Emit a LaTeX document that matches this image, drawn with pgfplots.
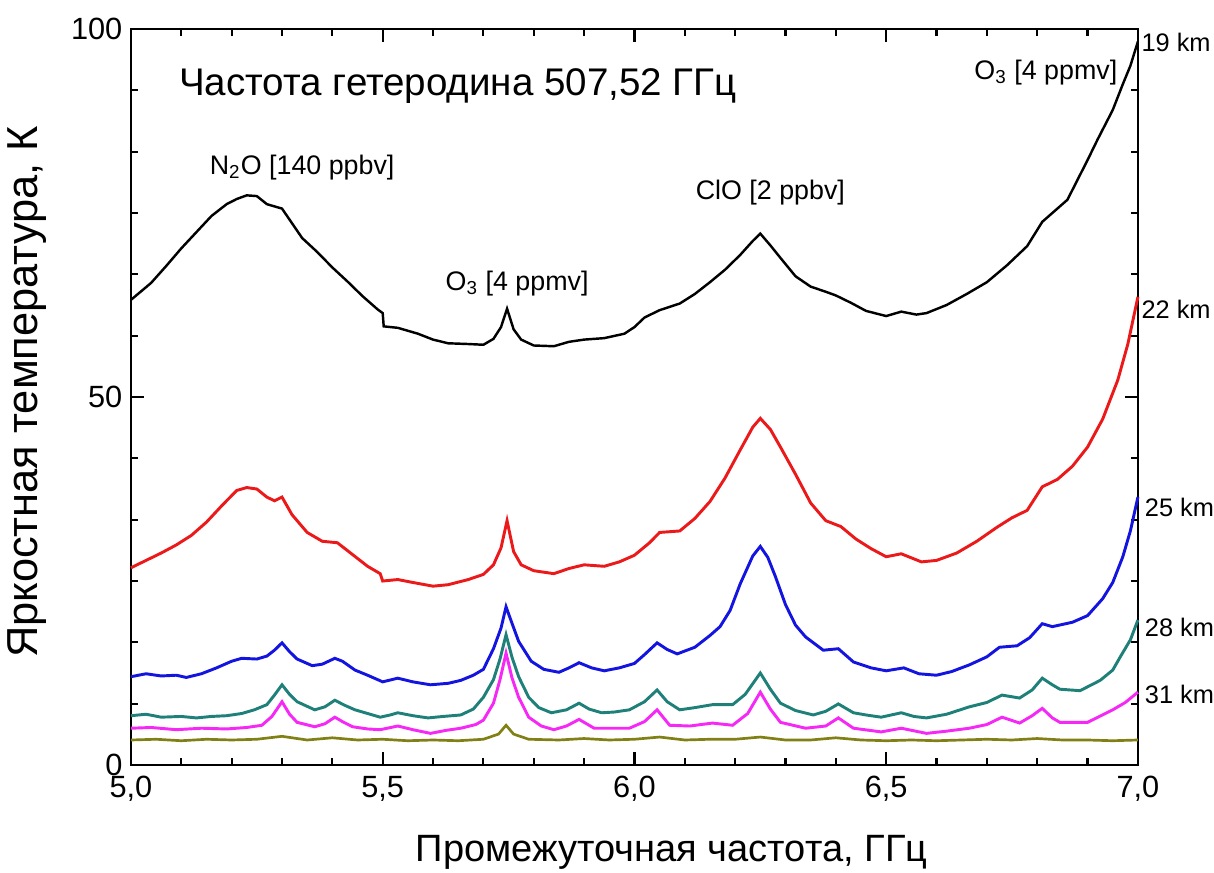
\documentclass[border=0pt]{standalone}
\usepackage{fontspec}
\setmainfont{Liberation Sans}
\usepackage{pgfplots}
\pgfplotsset{compat=1.18}
\definecolor{c19}{RGB}{0,0,0}
\definecolor{c22}{RGB}{235,25,25}
\definecolor{c25}{RGB}{20,20,225}
\definecolor{c28}{RGB}{30,128,120}
\definecolor{c31}{RGB}{245,40,245}
\definecolor{c34}{RGB}{128,128,20}
\tikzset{
  lab/.style={font=\fontsize{11}{13}\selectfont, inner sep=0pt},
  km/.style={anchor=base west, font=\fontsize{10.4}{12}\selectfont, inner sep=0pt, xshift=1.3pt},
}

\begin{document}
\begin{tikzpicture}
\begin{axis}[
  scale only axis,
  width=412.9pt, height=301.8pt,
  xmin=5, xmax=7, ymin=0, ymax=100,
  xtick={5,5.5,6,6.5,7}, ytick={0,50,100},
  minor x tick num=4, minor y tick num=5,
  tick align=inside,
  major tick length=5.3pt, minor tick length=3pt,
  every tick/.style={black, line width=0.9pt},
  axis line style={line width=1pt},
  /pgf/number format/assume math mode=true,
  xticklabel style={font=\fontsize{12.6}{14}\selectfont, yshift=-1pt,
    /pgf/number format/.cd, fixed, fixed zerofill, precision=1, use comma},
  yticklabel style={font=\fontsize{12.6}{14}\selectfont},
  xlabel={Промежуточная частота, ГГц},
  ylabel={Яркостная температура, К},
  xlabel style={font=\fontsize{15.6}{18}\selectfont,
    at={(axis description cs:0.537,-0.118)}, anchor=center},
  ylabel style={font=\fontsize{17.8}{20}\selectfont,
    at={(axis description cs:-0.103,0.507)}, anchor=center, rotate=0},
  clip=false,
]
% 19 km
\addplot[c19, line width=1pt] coordinates {
(5.00,63.2)(5.04,65.5)(5.07,67.8)(5.10,70.2)(5.13,72.4)(5.16,74.6)(5.19,76.2)(5.21,76.9)(5.23,77.4)(5.25,77.3)(5.27,76.2)(5.29,75.8)(5.30,75.6)(5.32,73.6)(5.34,71.6)(5.37,69.7)(5.40,67.6)(5.43,65.7)(5.46,63.7)(5.49,61.9)(5.50,61.4)(5.502,59.6)(5.53,59.4)(5.57,58.6)(5.60,57.8)(5.63,57.3)(5.67,57.2)(5.70,57.1)(5.72,57.9)(5.735,59.5)(5.747,62.0)(5.76,59.2)(5.775,57.8)(5.80,57.0)(5.84,56.9)(5.87,57.5)(5.90,57.8)(5.94,58.0)(5.98,58.6)(6.00,59.5)(6.02,60.8)(6.05,61.8)(6.09,62.7)(6.12,64.0)(6.15,65.6)(6.18,67.3)(6.21,69.3)(6.235,71.2)(6.25,72.2)(6.27,70.6)(6.29,68.9)(6.32,66.4)(6.35,65.0)(6.38,64.3)(6.40,63.8)(6.43,62.8)(6.46,61.7)(6.50,61.0)(6.53,61.6)(6.56,61.2)(6.58,61.4)(6.62,62.5)(6.66,64.0)(6.70,65.6)(6.74,67.9)(6.78,70.5)(6.81,73.8)(6.83,75.0)(6.86,76.8)(6.88,79.5)(6.90,82.2)(6.92,85.0)(6.95,89.0)(6.97,92.5)(6.985,95.0)(7.00,98.3)};
% 22 km
\addplot[c22, line width=1.2pt] coordinates {
(5.00,26.8)(5.03,27.8)(5.06,28.8)(5.09,29.9)(5.12,31.2)(5.15,33.0)(5.18,35.2)(5.21,37.3)(5.23,37.7)(5.25,37.5)(5.27,36.4)(5.285,35.9)(5.30,36.4)(5.32,34.0)(5.35,31.6)(5.38,30.4)(5.41,30.2)(5.44,28.6)(5.47,27.0)(5.495,26.0)(5.50,25.0)(5.53,25.2)(5.56,24.8)(5.60,24.3)(5.63,24.5)(5.67,25.2)(5.70,25.9)(5.72,27.2)(5.735,29.5)(5.747,33.2)(5.76,29.0)(5.775,27.2)(5.80,26.4)(5.84,26.0)(5.87,26.7)(5.90,27.2)(5.94,27.0)(5.97,27.6)(6.00,28.5)(6.03,30.2)(6.05,31.6)(6.09,31.8)(6.12,33.5)(6.15,35.8)(6.18,39.0)(6.21,42.8)(6.235,45.9)(6.25,47.1)(6.27,45.6)(6.29,43.2)(6.32,39.5)(6.35,35.6)(6.38,33.2)(6.41,32.4)(6.44,30.7)(6.47,29.4)(6.50,28.3)(6.53,28.7)(6.57,27.6)(6.60,27.8)(6.64,28.8)(6.68,30.4)(6.72,32.3)(6.75,33.6)(6.78,34.6)(6.81,37.8)(6.84,38.8)(6.87,40.6)(6.90,43.2)(6.93,47.0)(6.96,52.3)(6.98,57.2)(7.00,63.6)};
% 25 km
\addplot[c25, line width=1.2pt] coordinates {
(5.00,12.0)(5.03,12.4)(5.06,12.1)(5.09,12.2)(5.11,11.9)(5.14,12.4)(5.17,13.2)(5.20,14.1)(5.22,14.5)(5.25,14.4)(5.27,14.8)(5.285,15.6)(5.30,16.6)(5.315,15.4)(5.33,14.4)(5.36,13.5)(5.38,13.7)(5.405,14.5)(5.42,14.1)(5.445,12.9)(5.47,12.2)(5.50,11.3)(5.53,11.8)(5.56,11.3)(5.595,10.9)(5.63,11.1)(5.655,11.5)(5.68,12.2)(5.70,13.0)(5.72,15.8)(5.735,18.6)(5.745,21.5)(5.755,19.6)(5.77,16.8)(5.795,14.1)(5.82,13.0)(5.85,12.6)(5.87,13.2)(5.89,13.9)(5.915,13.2)(5.94,12.8)(5.97,13.2)(6.00,13.8)(6.02,15.0)(6.045,16.6)(6.065,15.7)(6.085,15.1)(6.12,16.0)(6.15,17.6)(6.17,18.8)(6.19,21.0)(6.21,24.6)(6.235,28.4)(6.25,29.7)(6.265,28.2)(6.28,25.6)(6.30,21.8)(6.32,19.0)(6.34,17.4)(6.375,15.6)(6.405,15.8)(6.435,14.0)(6.47,13.2)(6.50,12.8)(6.535,13.2)(6.565,12.4)(6.60,12.2)(6.63,12.7)(6.665,13.6)(6.70,14.7)(6.725,16.0)(6.76,16.2)(6.785,17.3)(6.81,19.2)(6.83,18.8)(6.87,19.4)(6.90,20.3)(6.93,22.6)(6.95,24.8)(6.97,28.3)(6.985,31.8)(7.00,36.4)};
% 28 km
\addplot[c28, line width=1.2pt] coordinates {
(5.00,6.7)(5.03,6.9)(5.06,6.5)(5.10,6.6)(5.13,6.4)(5.16,6.6)(5.19,6.7)(5.22,7.0)(5.245,7.5)(5.27,8.2)(5.285,9.5)(5.30,10.9)(5.315,9.6)(5.33,8.6)(5.365,7.5)(5.385,7.9)(5.405,8.8)(5.425,8.1)(5.445,7.5)(5.47,7.0)(5.495,6.5)(5.515,6.8)(5.53,7.1)(5.56,6.7)(5.59,6.4)(5.62,6.6)(5.655,6.8)(5.68,7.6)(5.70,9.2)(5.72,11.6)(5.733,14.4)(5.745,17.7)(5.757,14.6)(5.77,12.0)(5.79,9.2)(5.81,7.8)(5.835,7.1)(5.865,7.5)(5.89,8.4)(5.91,7.6)(5.935,7.1)(5.96,7.2)(5.99,7.5)(6.02,8.6)(6.045,10.2)(6.065,8.6)(6.09,7.5)(6.12,7.8)(6.155,8.2)(6.195,8.2)(6.22,9.6)(6.25,12.5)(6.27,10.3)(6.29,8.4)(6.32,7.4)(6.355,6.8)(6.38,7.3)(6.405,8.3)(6.435,7.1)(6.46,6.8)(6.49,6.5)(6.53,7.1)(6.555,6.6)(6.58,6.4)(6.62,6.9)(6.665,7.9)(6.70,8.5)(6.73,9.5)(6.765,9.1)(6.79,10.2)(6.81,11.8)(6.83,10.9)(6.845,10.3)(6.885,10.1)(6.925,11.5)(6.95,12.9)(6.965,14.7)(6.985,17.0)(7.00,19.7)};
% 31 km
\addplot[c31, line width=1.2pt] coordinates {
(5.00,5.0)(5.04,5.1)(5.09,4.8)(5.14,5.0)(5.19,4.9)(5.23,5.1)(5.26,5.4)(5.28,6.6)(5.30,8.6)(5.315,6.9)(5.33,5.8)(5.365,5.2)(5.385,5.6)(5.405,6.5)(5.42,5.9)(5.44,5.2)(5.47,4.9)(5.495,4.8)(5.53,5.3)(5.56,4.8)(5.595,4.3)(5.625,4.7)(5.655,5.0)(5.685,5.5)(5.70,6.1)(5.72,8.4)(5.733,11.6)(5.745,15.2)(5.757,11.8)(5.77,9.2)(5.79,6.5)(5.815,5.3)(5.84,4.8)(5.865,5.3)(5.89,6.2)(5.92,5.0)(5.96,5.0)(5.99,5.0)(6.02,5.9)(6.045,7.5)(6.07,5.4)(6.11,5.3)(6.155,5.7)(6.195,5.4)(6.225,7.0)(6.25,9.9)(6.27,7.6)(6.29,5.8)(6.34,5.0)(6.38,5.3)(6.405,6.4)(6.435,5.0)(6.49,4.5)(6.53,5.0)(6.58,4.3)(6.62,4.6)(6.665,5.0)(6.70,5.5)(6.73,6.5)(6.765,5.7)(6.79,6.7)(6.81,7.7)(6.83,6.4)(6.845,5.8)(6.90,5.8)(6.95,7.5)(6.975,8.5)(7.00,9.9)};
% 34 km
\addplot[c34, line width=1.1pt] coordinates {
(5.00,3.4)(5.05,3.5)(5.10,3.3)(5.15,3.5)(5.20,3.4)(5.25,3.5)(5.30,3.9)(5.35,3.4)(5.40,3.7)(5.45,3.4)(5.50,3.5)(5.55,3.3)(5.60,3.4)(5.65,3.3)(5.70,3.5)(5.73,4.2)(5.745,5.4)(5.76,4.2)(5.79,3.5)(5.85,3.4)(5.90,3.6)(5.95,3.4)(6.00,3.5)(6.05,3.8)(6.10,3.4)(6.15,3.5)(6.20,3.5)(6.25,3.8)(6.30,3.4)(6.35,3.4)(6.40,3.7)(6.45,3.4)(6.50,3.3)(6.55,3.4)(6.60,3.3)(6.65,3.4)(6.70,3.5)(6.75,3.4)(6.80,3.6)(6.85,3.4)(6.90,3.4)(6.95,3.3)(7.00,3.4)};

\node[anchor=base west, font=\fontsize{15.8}{17}\selectfont, inner sep=0pt]
  at (axis cs:5.095,91) {Частота гетеродина 507,52 ГГц};
\node[lab, anchor=base] at (axis cs:5.34,80.2) {N\textsubscript{2}O [140 ppbv]};
\node[lab, anchor=base] at (axis cs:5.767,64.5) {O\textsubscript{3} [4 ppmv]};
\node[lab, anchor=base] at (axis cs:6.27,76.8) {ClO [2 ppbv]};
\node[lab, anchor=base east] at (axis cs:6.96,93.1) {O\textsubscript{3} [4 ppmv]};
\node[km] at (axis cs:7,97) {19 km};
\node[km] at (axis cs:7,60.7) {22 km};
\node[km, xshift=1.4pt] at (axis cs:7,33.7) {25 km};
\node[km, xshift=1.4pt] at (axis cs:7,17.4) {28 km};
\node[km, xshift=1.4pt] at (axis cs:7,8.4) {31 km};
\end{axis}
\pgfresetboundingbox
\useasboundingbox (-53.7pt,-43.9pt) rectangle (444.1pt,313.7pt);
\end{tikzpicture}
\end{document}
